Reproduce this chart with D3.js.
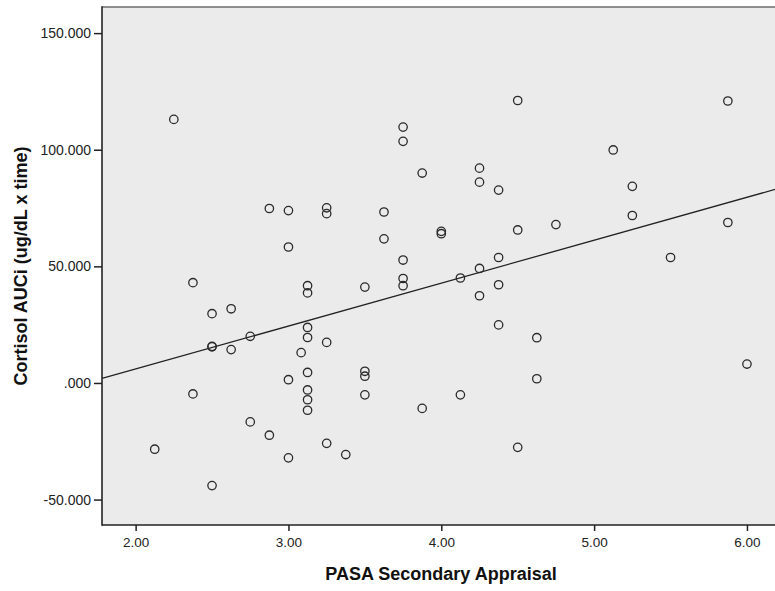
<!DOCTYPE html>
<html>
<head>
<meta charset="utf-8">
<script src="https://cdn.jsdelivr.net/npm/d3@7"></script>
<style>
  html, body { margin: 0; padding: 0; background: #fff; }
  svg { display: block; }
</style>
</head>
<body>
<svg id="chart" width="775" height="591"></svg>
<script>
// PASA Secondary Appraisal (x) vs Cortisol AUCi (y)
const pasa = [2.25, 2.875, 3.0, 3.25, 3.25, 3.0, 2.375, 4.5, 3.75, 3.75,
  3.875, 4.25, 4.25, 4.375, 3.625, 3.625, 4.0, 4.0, 4.5, 4.75,
  3.75, 3.75, 3.75, 4.25, 4.375, 4.125, 5.875, 5.125, 5.25, 5.25,
  5.875, 5.5, 3.125, 3.125, 2.5, 2.625, 2.75, 2.5, 2.5, 2.625,
  3.125, 3.125, 3.25, 3.083, 3.125, 3.0, 3.125, 3.125, 3.125, 2.375,
  2.75, 2.875, 2.125, 3.25, 3.0, 3.375, 2.5, 3.5, 4.25, 4.375,
  4.375, 4.625, 4.625, 3.5, 3.5, 3.5, 3.875, 4.125, 4.5, 6.0];
const cortisol = [113.0, 74.8, 73.9, 75.1, 72.6, 58.3, 43.0, 121.1, 109.7, 103.6,
  90.0, 92.1, 86.1, 82.7, 73.3, 61.8, 65.0, 64.0, 65.6, 67.9,
  52.7, 44.8, 41.7, 49.1, 53.8, 45.0, 120.9, 99.9, 84.3, 71.8,
  68.8, 53.8, 41.7, 38.6, 29.7, 31.8, 20.0, 15.7, 15.5, 14.3,
  23.8, 19.5, 17.4, 13.0, 4.5, 1.4, -3.0, -7.2, -11.7, -4.7,
  -16.7, -22.4, -28.4, -25.9, -32.1, -30.7, -44.0, 41.1, 37.4, 42.1,
  24.9, 19.4, 1.8, 5.0, 2.9, -5.1, -10.9, -5.1, -27.6, 8.1];
// Fit line: [intercept, slope]
const fitLine = [-30.8, 18.4];
const xTicks = [2, 3, 4, 5, 6];
const xTickLabels = ["2.00", "3.00", "4.00", "5.00", "6.00"];
const yTicks = [-50, 0, 50, 100, 150];
const yTickLabels = ["-50.000", ".000", "50.000", "100.000", "150.000"];
const xTitle = "PASA Secondary Appraisal";
const yTitle = "Cortisol AUCi (ug/dL x time)";

const svg = d3.select("#chart");
const L = 102, R = 776, T = 7, B = 525;
const xDomain = [1.78, 6.19], yDomain = [-60.9, 161.2];
const x = d3.scaleLinear().domain(xDomain).range([L, R]);
const y = d3.scaleLinear().domain(yDomain).range([B, T]);
const font = "'Liberation Sans', Arial, sans-serif";

// plot background
svg.append("rect").attr("x", L).attr("y", T).attr("width", R - L).attr("height", B - T)
  .attr("fill", "#ebebeb");
// top border
svg.append("line").attr("x1", L).attr("x2", R).attr("y1", T).attr("y2", T)
  .attr("stroke", "#6e6e6e").attr("stroke-width", 1.6);

// regression line
const fx = d => fitLine[0] + fitLine[1] * d;
svg.append("line")
  .attr("x1", x(xDomain[0])).attr("y1", y(fx(xDomain[0])))
  .attr("x2", x(xDomain[1])).attr("y2", y(fx(xDomain[1])))
  .attr("stroke", "#222").attr("stroke-width", 1.3);

// points
svg.append("g").selectAll("circle").data(pasa.map((v, i) => [v, cortisol[i]]))
  .join("circle")
  .attr("cx", d => x(d[0])).attr("cy", d => y(d[1])).attr("r", 4.2)
  .attr("fill", "none").attr("stroke", "#2a2a2a").attr("stroke-width", 1.3);

// axes
const xAxis = d3.axisBottom(x).tickValues(xTicks)
  .tickFormat((d, i) => xTickLabels[i]).tickSize(6).tickSizeOuter(0);
const gx = svg.append("g").attr("transform", `translate(0,${B})`).call(xAxis);
gx.select(".domain").remove();
gx.selectAll(".tick line").attr("stroke", "#222").attr("stroke-width", 1.5);
gx.selectAll("text").attr("font-family", font).attr("font-size", 13.5)
  .attr("fill", "#222").attr("dy", "0.71em").attr("y", 12);

const yAxis = d3.axisLeft(y).tickValues(yTicks)
  .tickFormat((d, i) => yTickLabels[i]).tickSize(8).tickSizeOuter(0);
const gy = svg.append("g").attr("transform", `translate(${L},0)`).call(yAxis);
gy.select(".domain").remove();
gy.selectAll(".tick line").attr("stroke", "#222").attr("stroke-width", 1.5);
gy.selectAll("text").attr("font-family", font).attr("font-size", 14)
  .attr("fill", "#222").attr("x", -11);

// axis lines
svg.append("line").attr("x1", L).attr("x2", L).attr("y1", T - 0.8).attr("y2", B + 0.8)
  .attr("stroke", "#222").attr("stroke-width", 1.6);
svg.append("line").attr("x1", L).attr("x2", R).attr("y1", B).attr("y2", B)
  .attr("stroke", "#222").attr("stroke-width", 1.6);

// titles
svg.append("text").attr("x", 441).attr("y", 580)
  .attr("text-anchor", "middle").attr("font-family", font).attr("font-weight", "bold")
  .attr("font-size", 18).attr("fill", "#111").text(xTitle);
svg.append("text").attr("transform", `translate(27,${(T + B) / 2}) rotate(-90)`)
  .attr("text-anchor", "middle").attr("font-family", font).attr("font-weight", "bold")
  .attr("font-size", 18).attr("fill", "#111").text(yTitle);
</script>
</body>
</html>
